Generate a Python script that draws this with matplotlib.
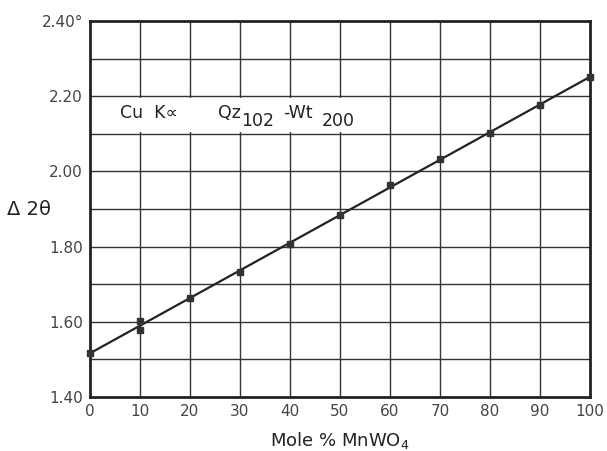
import numpy as np
import matplotlib
matplotlib.use('Agg')
import matplotlib.pyplot as plt
from matplotlib.patches import Rectangle

plt.rcParams['font.family'] = ['DejaVu Sans']
plt.rcParams['mathtext.default'] = 'regular'

# --- data ---
mole_pct = [0, 10, 10, 20, 30, 40, 50, 60, 70, 80, 90, 100]
delta_2theta = [1.516, 1.603, 1.578, 1.662, 1.733, 1.807, 1.884, 1.964, 2.032, 2.101, 2.177, 2.252]
xticks = [0, 10, 20, 30, 40, 50, 60, 70, 80, 90, 100]
xticklabels = ['0', '10', '20', '30', '40', '50', '60', '70', '80', '90', '100']
yticks = [1.40, 1.60, 1.80, 2.00, 2.20, 2.40]
yticklabels = ['1.40', '1.60', '1.80', '2.00', '2.20', '2.40°']
ygrid = [1.5, 1.6, 1.7, 1.8, 1.9, 2.0, 2.1, 2.2, 2.3]

fig = plt.figure(figsize=(6.07, 4.51), dpi=100)
ax = fig.add_axes([0.148, 0.12, 0.824, 0.8334])

ink = '#333333'
for gx in xticks[1:-1]:
    ax.axvline(gx, color=ink, lw=1.0, zorder=1)
for gy in ygrid:
    ax.axhline(gy, color=ink, lw=1.0, zorder=1)

# white label box that blanks the vertical grid lines
ax.add_patch(Rectangle((0, 2.104), 57, 0.092, facecolor='white', edgecolor='none', zorder=2))
lbl = dict(fontsize=12.5, color='#222222', va='center', ha='left', zorder=3)
ax.text(6.0, 2.156, 'Cu  K∝', **lbl)
ax.text(25.6, 2.156, 'Qz', **lbl)
ax.text(30.2, 2.135, '102', **lbl)
ax.text(38.6, 2.156, '-Wt', **lbl)
ax.text(46.4, 2.135, '200', **lbl)

# straight line fit through the points
p = np.polyfit(mole_pct, delta_2theta, 1)
lx = np.array([0, 100])
ax.plot(lx, np.polyval(p, lx), color='#222222', lw=1.6, zorder=4)
ax.plot(mole_pct, delta_2theta, 's', color='#333333', ms=5, zorder=5, clip_on=False)

ax.set_xlim(0, 100)
ax.set_ylim(1.40, 2.40)
ax.set_xticks(xticks)
ax.set_xticklabels(xticklabels)
ax.set_yticks(yticks)
ax.set_yticklabels(yticklabels)
ax.tick_params(length=0, labelsize=11, colors='#444444', pad=5)
for s in ax.spines.values():
    s.set_linewidth(2)
    s.set_color('#222222')

ax.set_xlabel(r'Mole % MnWO$_4$', fontsize=13, color='#222222', labelpad=8)
fig.text(0.012, 0.535, 'Δ 2θ', fontsize=14, color='#222222', va='center', ha='left')

fig.savefig('out.png', dpi=100)
